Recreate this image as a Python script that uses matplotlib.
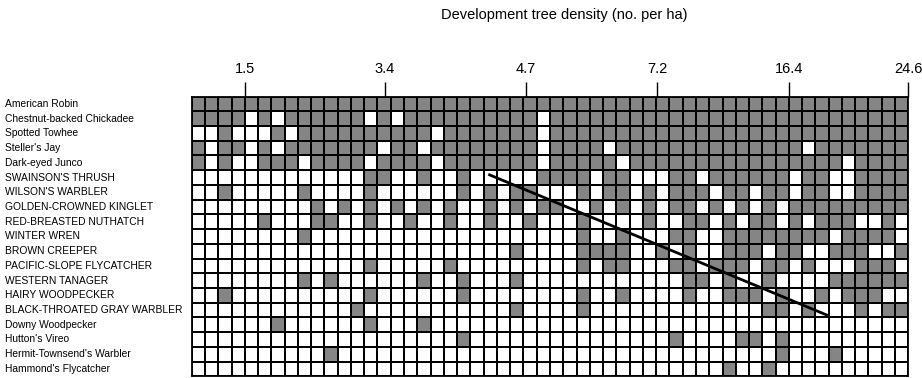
import numpy as np
import matplotlib
matplotlib.use("Agg")
import matplotlib.pyplot as plt
from matplotlib.colors import ListedColormap
from matplotlib.transforms import blended_transform_factory

plt.rcParams['font.family'] = ['Liberation Sans', 'DejaVu Sans']

species = [
    "American Robin", "Chestnut-backed Chickadee", "Spotted Towhee", "Steller's Jay",
    "Dark-eyed Junco", "SWAINSON'S THRUSH", "WILSON'S WARBLER", "GOLDEN-CROWNED KINGLET",
    "RED-BREASTED NUTHATCH", "WINTER WREN", "BROWN CREEPER", "PACIFIC-SLOPE FLYCATCHER",
    "WESTERN TANAGER", "HAIRY WOODPECKER", "BLACK-THROATED GRAY WARBLER", "Downy Woodpecker",
    "Hutton's Vireo", "Hermit-Townsend's Warbler", "Hammond's Flycatcher",
]

n_sites = 54

# columns (sites, ordered by tree density) where each species was detected
detections = [
    list(range(54)),
    [0, 1, 2, 3, 5, 7, 8, 9, 10, 11, 12, 14, 16, 17, 18, 19, 20, 21, 22, 23, 24, 25]
    + list(range(27, 54)),
    [2, 6] + list(range(8, 18)) + list(range(19, 26)) + list(range(27, 54)),
    [0, 2, 3, 5, 7, 8, 9, 10, 11, 12, 13, 15, 16] + list(range(18, 26)) + [27, 28, 29, 30]
    + list(range(32, 46)) + list(range(47, 54)),
    [0, 2, 5, 6, 7, 9, 10, 11, 12, 14, 15, 16, 17] + list(range(19, 26)) + list(range(27, 32))
    + list(range(33, 49)) + [50, 51, 52, 53],
    [13, 14, 17, 20, 26, 27, 28, 29, 31, 32, 36, 37, 39, 40, 41, 42, 43, 44, 46, 47, 50, 51, 52, 53],
    [2, 8, 13, 20, 22, 24, 25, 29, 31, 32, 34, 36, 37, 38, 40, 41, 43, 44, 46, 47, 50, 51, 52, 53],
    [9, 11, 13, 15, 17, 19, 22, 24, 26, 27, 30, 32, 34, 36, 37, 39, 41, 43, 45, 46, 47, 48, 49, 50, 51, 52, 53],
    [5, 9, 10, 13, 16, 19, 22, 25, 29, 34, 37, 38, 40, 42, 43, 45, 47, 48, 49, 52],
    [8, 29, 32, 36, 37, 40, 41, 42, 43, 44, 45, 46, 47, 49, 50, 51, 52],
    [24, 29, 30, 31, 32, 35, 37, 40, 41, 42, 44, 45, 48, 49, 50, 53],
    [13, 19, 29, 31, 32, 36, 37, 39, 40, 41, 43, 44, 46, 50, 51, 52],
    [8, 10, 17, 20, 24, 37, 38, 40, 43, 48, 49, 50, 51, 52, 53],
    [2, 13, 20, 29, 32, 37, 40, 41, 42, 44, 47, 49, 50, 51],
    [12, 24, 29, 43, 44, 46, 50, 52, 53],
    [6, 13, 17],
    [20, 36, 41, 42, 44],
    [10, 44, 48],
    [40, 43],
]

tick_cols = [4, 14.55, 25.2, 35.1, 45, 54]
tick_labels = ["1.5", "3.4", "4.7", "7.2", "16.4", "24.6"]

# trend line (in site / species-row units)
trend_x = [22.35, 47.97]
trend_y = [5.28, 14.88]

title = "Development tree density (no. per ha)"

presence = np.zeros((len(species), n_sites))
for i, cols in enumerate(detections):
    presence[i, cols] = 1

fig = plt.figure(figsize=(9.22, 3.78), dpi=100)
ax = fig.add_axes([191.7 / 922, 1 - 376.3 / 378, (908.3 - 191.7) / 922, (376.3 - 96.6) / 378])

cmap = ListedColormap(['white', '#858585'])
ax.pcolormesh(np.arange(n_sites + 1), np.arange(len(species) + 1), presence,
              cmap=cmap, vmin=0, vmax=1, edgecolors='black', linewidth=1.1)
ax.plot(trend_x, trend_y, color='black', linewidth=2.0, solid_capstyle='butt')

ax.set_xlim(0, n_sites)
ax.set_ylim(len(species), 0)
ax.xaxis.tick_top()
ax.set_xticks(tick_cols)
ax.set_xticklabels(tick_labels, fontsize=10.5)
ax.tick_params(axis='x', length=11, width=1.0, pad=4, color='black')
ax.set_yticks([])
for s in ax.spines.values():
    s.set_linewidth(1.3)

trans = blended_transform_factory(fig.transFigure, ax.transData)
for i, name in enumerate(species):
    ax.text(5 / 922, i + 0.5, name, transform=trans, ha='left', va='center', fontsize=7.4)

fig.text(564.5 / 922, 1 - 15 / 378, title, ha='center', va='center', fontsize=10.5)

fig.savefig("out.png", dpi=100)
